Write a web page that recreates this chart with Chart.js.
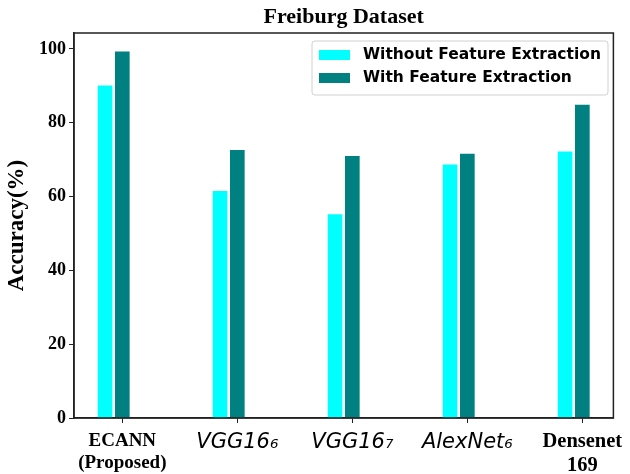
<!DOCTYPE html>
<html>
<head>
<meta charset="utf-8">
<script src="https://cdn.jsdelivr.net/npm/chart.js@4.4.0/dist/chart.umd.min.js"></script>
<style>
  body { margin: 0; background: #fff; }
  #wrap { width: 630px; height: 474px; }
</style>
</head>
<body>
<div id="wrap"><canvas id="chart"></canvas></div>
<script>
// Data
const models = [['ECANN', '(Proposed)'], 'VGG16\u2086', 'VGG16\u2087', 'AlexNet\u2086', ['Densenet', '169']];
const withoutFE = [90.0, 61.4, 55.1, 68.6, 72.1];
const withFE = [99.2, 72.5, 70.9, 71.5, 84.8];
const yTicks = [0, 20, 40, 60, 80, 100];
const seriesNames = ['Without Feature Extraction', 'With Feature Extraction'];
const chartTitle = 'Freiburg Dataset';

const serif = "'Liberation Serif', 'Times New Roman', serif";
const sans = "'DejaVu Sans', sans-serif";

// full box around the plot + title centred over the axes
const frame = {
    id: 'frame',
    afterDatasetsDraw(chart) {
        const a = chart.chartArea, ctx = chart.ctx;
        ctx.save();
        ctx.strokeStyle = '#222';
        ctx.lineWidth = 1.5;
        ctx.strokeRect(a.left, a.top, a.right - a.left, a.bottom - a.top);
        ctx.fillStyle = '#000';
        ctx.font = 'bold 22px ' + serif;
        ctx.textAlign = 'center';
        ctx.textBaseline = 'middle';
        ctx.fillText(chartTitle, (a.left + a.right) / 2, 17);
        ctx.restore();
    }
};

// legend in the upper right corner inside the plot
const innerLegend = {
    id: 'innerLegend',
    afterDraw(chart) {
        const ctx = chart.ctx;
        const x = 312, y = 41, w = 296, h = 54;
        ctx.save();
        ctx.fillStyle = 'rgba(255,255,255,0.85)';
        ctx.strokeStyle = '#d0d0d0';
        ctx.lineWidth = 1;
        ctx.beginPath();
        ctx.roundRect(x, y, w, h, 3);
        ctx.fill();
        ctx.stroke();
        ctx.font = 'bold 15.5px ' + sans;
        ctx.textBaseline = 'middle';
        chart.data.datasets.forEach((ds, i) => {
            const cy = y + 14 + i * 23;
            ctx.fillStyle = ds.backgroundColor;
            ctx.fillRect(x + 7, cy - 5, 31, 10);
            ctx.fillStyle = '#000';
            ctx.fillText(ds.label, x + 51, cy);
        });
        ctx.restore();
    }
};

new Chart(document.getElementById('chart'), {
    type: 'bar',
    data: {
        datasets: [{
            label: seriesNames[0],
            data: withoutFE.map((v, i) => ({ x: i - 0.15, y: v })),
            backgroundColor: '#00FFFF',
            grouped: false,
            barThickness: 14
        }, {
            label: seriesNames[1],
            data: withFE.map((v, i) => ({ x: i, y: v })),
            backgroundColor: '#008080',
            grouped: false,
            barThickness: 14
        }]
    },
    options: {
        responsive: true,
        maintainAspectRatio: false,
        animation: false,
        layout: { padding: { left: 0, right: 14, top: 33, bottom: 0 } },
        plugins: {
            legend: { display: false },
            tooltip: { enabled: false },
            title: { display: false }
        },
        scales: {
            x: {
                type: 'linear',
                offset: false,
                min: -0.42,
                max: 4.27,
                afterFit: (s) => { s.height = 56; },
                afterBuildTicks: (s) => { s.ticks = models.map((m, i) => ({ value: i })); },
                grid: { offset: false, drawOnChartArea: false, tickLength: 5, color: '#222' },
                border: { color: '#222', width: 1.5 },
                ticks: {
                    color: '#000',
                    padding: 7,
                    maxRotation: 0,
                    autoSkip: false,
                    callback: (v) => models[v],
                    font: (c) => {
                        if (c.index >= 1 && c.index <= 3) return { family: sans, size: 21, style: 'italic' };
                        return { family: serif, size: c.index === 4 ? 20.5 : 19, weight: 'bold', lineHeight: 1.15 };
                    }
                }
            },
            y: {
                min: 0,
                max: 104.3,
                afterFit: (s) => { s.width = 74; },
                afterBuildTicks: (s) => { s.ticks = yTicks.map(v => ({ value: v })); },
                grid: { drawOnChartArea: false, tickLength: 5, color: '#222' },
                border: { color: '#222', width: 1.5 },
                ticks: {
                    color: '#000',
                    padding: 3,
                    font: { family: serif, size: 18, weight: 'bold' }
                },
                title: {
                    display: true,
                    text: 'Accuracy(%)',
                    color: '#000',
                    font: { family: serif, size: 23, weight: 'bold' },
                    padding: { top: 3, bottom: 0 }
                }
            }
        }
    },
    plugins: [frame, innerLegend]
});
</script>
</body>
</html>
